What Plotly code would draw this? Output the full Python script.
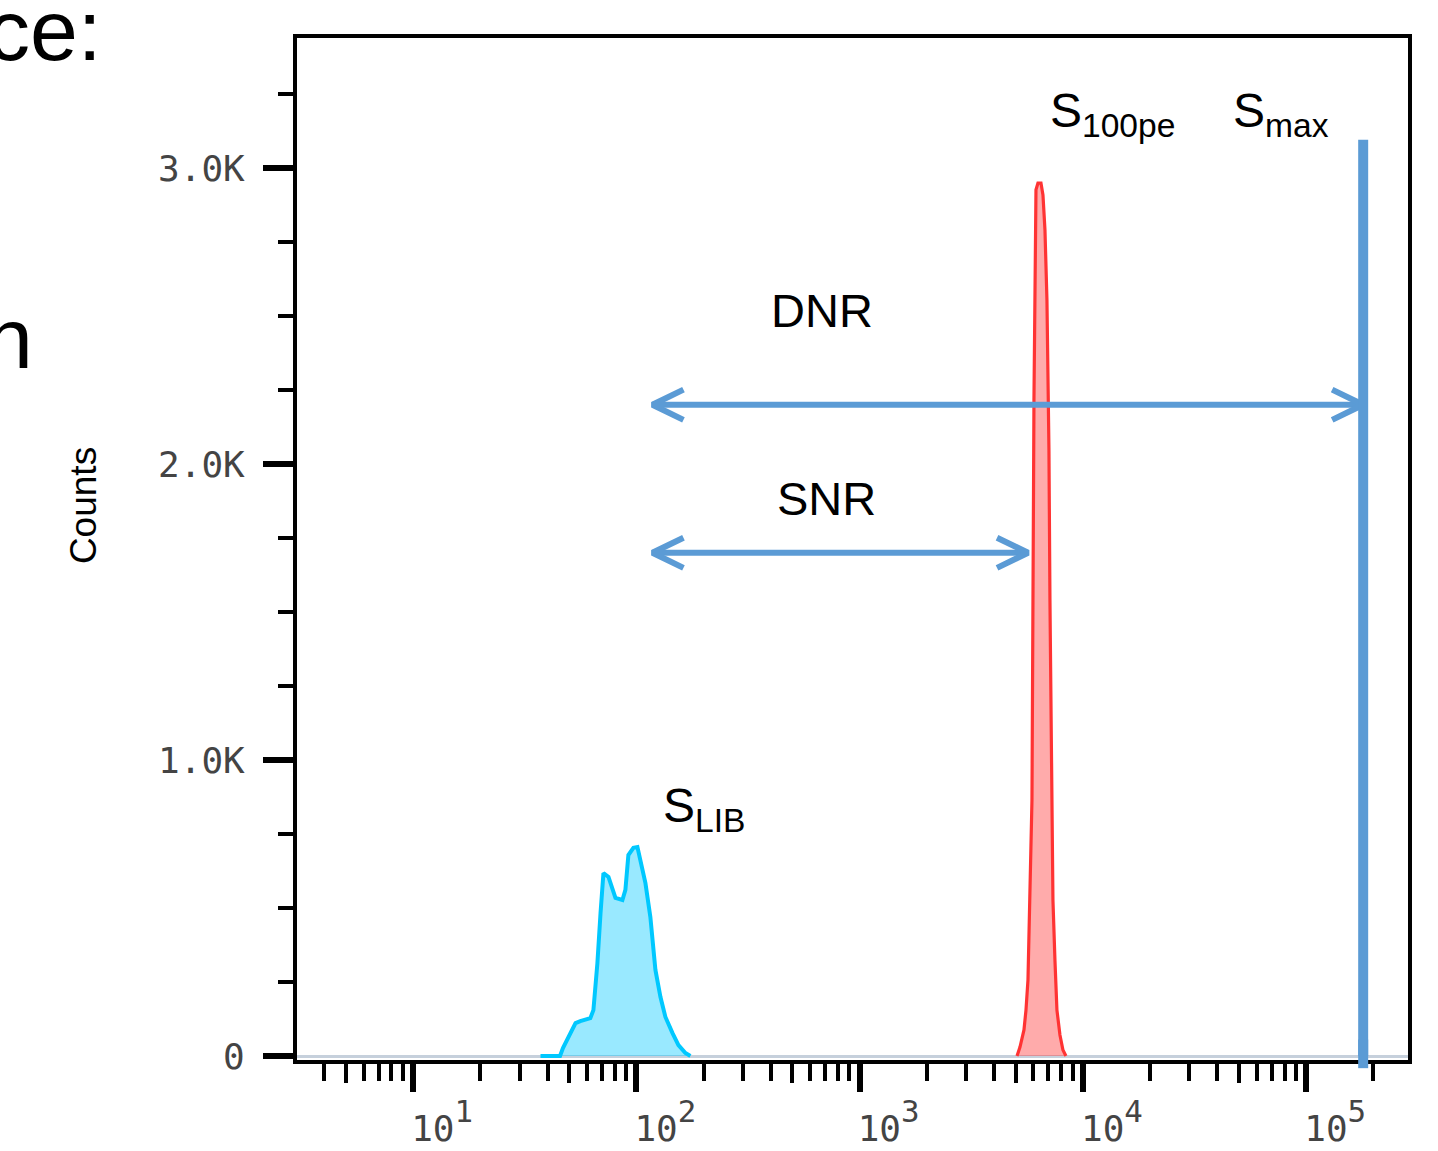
import plotly.graph_objects as go

# ---------------- data ----------------
# S_LIB histogram (blue) : bin position (a.u.) and counts
LIB_X = [37.2, 45.5, 46.9, 50.7, 53.4, 56.1, 62.2, 64.2, 66.9, 69.1, 71.2, 75.0, 78.2, 80.6,
         86.6, 89.3, 92.1, 97.0, 101.1, 104.3, 109.8, 115.5, 121.7, 128.2, 134.9, 145.0,
         154.3, 165.8, 174.6]
LIB_Y = [0, 0, 27, 78, 111, 118, 128, 155, 314, 483, 618, 605, 561, 534,
         527, 561, 679, 703, 706, 662, 584, 470, 291, 199, 132, 78,
         37, 10, 0]

# S_100pe histogram (red)
PE_X = [5068, 5226, 5445, 5559, 5675, 5793, 5913, 6036, 6098, 6162, 6290, 6488,
        6623, 6761, 6901, 7045, 7118, 7266, 7341, 7494, 7650, 7891, 8139, 8394]
PE_Y = [0, 30, 88, 155, 257, 527, 865, 2216, 2723, 2926, 2949, 2949,
        2909, 2791, 2554, 2047, 1541, 865, 527, 324, 155, 71, 20, 0]

# S_max marker line
S_MAX = 1.8e5
S_MAX_TOP = 3095

# dynamic range / signal-to-noise arrows
ARROW_LEFT = 118
SNR_RIGHT = 5680
DNR_RIGHT = S_MAX
DNR_Y = 2200
SNR_Y = 1700

# tick labels
Y_TICK_VALS = [0, 1000, 2000, 3000]
Y_TICK_TEXT = ["0", "1.0K", "2.0K", "3.0K"]
X_TICK_VALS = [10, 100, 1000, 10000, 100000]
X_TICK_EXP = ["1", "2", "3", "4", "5"]

# ---------------- style ----------------
ARROW_COLOR = "#5b9bd5"
HEAD_DX_DEC = 0.139   # arrow-head length in decades
HEAD_DY = 51          # arrow-head half-height in counts
TEXT_FONT = "Liberation Sans, Arial, Helvetica, sans-serif"
MONO = "DejaVu Sans Mono, monospace"
Y_RANGE = [-13.5, 3439]
X_RANGE_LOG = [0.48, 5.456]

x_tick_text = ["<span style='font-size:36px'>10</span><sup>%s</sup>" % e for e in X_TICK_EXP]
minor_x = [m * 10 ** k for k in range(0, 6) for m in range(2, 10)]
five_x = [5 * 10 ** k for k in range(0, 6)]


def arrow_xy(x0, x1, y):
    f = 10 ** HEAD_DX_DEC
    xs = [x0 * f, x0, x0 * f, None, x0, x1, None, x1 / f, x1, x1 / f]
    ys = [y + HEAD_DY, y, y - HEAD_DY, None, y, y, None, y + HEAD_DY, y, y - HEAD_DY]
    return xs, ys


fig = go.Figure()

fig.add_trace(go.Scatter(
    x=LIB_X, y=LIB_Y, mode="lines", fill="tozeroy",
    fillcolor="rgba(0,200,255,0.4)", line=dict(color="#00c8ff", width=4),
    hoverinfo="skip", showlegend=False))

fig.add_trace(go.Scatter(
    x=PE_X, y=PE_Y, mode="lines", fill="tozeroy",
    fillcolor="rgba(255,60,60,0.43)", line=dict(color="#ff3333", width=3.2),
    hoverinfo="skip", showlegend=False))

for (xl, xr, yy) in [(ARROW_LEFT, DNR_RIGHT, DNR_Y), (ARROW_LEFT, SNR_RIGHT, SNR_Y)]:
    xs, ys = arrow_xy(xl, xr, yy)
    fig.add_trace(go.Scatter(x=xs, y=ys, mode="lines",
                             line=dict(color=ARROW_COLOR, width=6),
                             hoverinfo="skip", showlegend=False))

fig.add_trace(go.Scatter(x=[S_MAX, S_MAX], y=[0, S_MAX_TOP], mode="lines",
                         line=dict(color=ARROW_COLOR, width=10),
                         hoverinfo="skip", showlegend=False))

# small extension of the S_max line below the axis
fig.add_shape(type="line", xref="x", yref="y domain", x0=S_MAX, x1=S_MAX,
              y0=-0.008, y1=0.02, line=dict(color=ARROW_COLOR, width=10), layer="above")

# dummy trace on overlay axis for the longer "5" ticks
fig.add_trace(go.Scatter(x=[five_x[1]], y=[None], xaxis="x2", mode="lines",
                         hoverinfo="skip", showlegend=False))

ann = []
ann.append(dict(text="DNR", x=2.832, y=2520, xref="x", yref="y", showarrow=False,
                xanchor="center", yanchor="middle", font=dict(family=TEXT_FONT, size=47, color="black")))
ann.append(dict(text="SNR", x=2.850, y=1885, xref="x", yref="y", showarrow=False,
                xanchor="center", yanchor="middle", font=dict(family=TEXT_FONT, size=47, color="black")))
ann.append(dict(text="S<sub>100pe</sub>", x=3.843, y=3182, xref="x", yref="y", showarrow=False,
                xanchor="left", yanchor="middle", font=dict(family=TEXT_FONT, size=48, color="black")))
ann.append(dict(text="S<sub>max</sub>", x=4.662, y=3182, xref="x", yref="y", showarrow=False,
                xanchor="left", yanchor="middle", font=dict(family=TEXT_FONT, size=48, color="black")))
ann.append(dict(text="S<sub>LIB</sub>", x=2.112, y=834, xref="x", yref="y", showarrow=False,
                xanchor="left", yanchor="middle", font=dict(family=TEXT_FONT, size=48, color="black")))
ann.append(dict(text="Counts", x=-0.1926, y=0.542, xref="paper", yref="paper", showarrow=False,
                textangle=-90, xanchor="center", yanchor="middle",
                font=dict(family=TEXT_FONT, size=37, color="black")))
# fragments of slide text cut by the left edge
ann.append(dict(text="ce:", x=-0.174, y=1.0083, xref="paper", yref="paper", showarrow=False,
                xanchor="right", yanchor="middle", font=dict(family=TEXT_FONT, size=86, color="black")))
ann.append(dict(text="n", x=-0.236, y=0.706, xref="paper", yref="paper", showarrow=False,
                xanchor="right", yanchor="middle", font=dict(family=TEXT_FONT, size=86, color="black")))

fig.update_layout(
    width=1438, height=1151, autosize=False,
    margin=dict(l=297, r=30, t=38, b=91, pad=0),
    paper_bgcolor="white", plot_bgcolor="white",
    showlegend=False,
    annotations=ann,
    xaxis=dict(
        type="log", range=X_RANGE_LOG, showgrid=False, zeroline=False, automargin=False,
        showline=True, linecolor="black", linewidth=4, mirror=True,
        tickmode="array", tickvals=X_TICK_VALS, ticktext=x_tick_text,
        ticks="outside", ticklen=28, tickwidth=6, tickcolor="black",
        tickfont=dict(family=MONO, size=44, color="#444444"),
        ticklabelshift=29, ticklabelstandoff=-4,
        minor=dict(tickmode="array", tickvals=minor_x, ticks="outside",
                   ticklen=17, tickwidth=3.5, tickcolor="black", showgrid=False),
    ),
    xaxis2=dict(
        type="log", range=X_RANGE_LOG, overlaying="x", anchor="y", side="bottom",
        showgrid=False, zeroline=False, showline=False, automargin=False,
        tickmode="array", tickvals=five_x, ticks="outside", ticklen=22, tickwidth=3.5,
        tickcolor="black", showticklabels=False,
    ),
    yaxis=dict(
        range=Y_RANGE, showgrid=False, automargin=False,
        zeroline=True, zerolinecolor="#c6d0dc", zerolinewidth=3,
        showline=True, linecolor="black", linewidth=4, mirror=True,
        tickmode="array", tickvals=Y_TICK_VALS, ticktext=Y_TICK_TEXT,
        ticks="outside", ticklen=30, tickwidth=6, tickcolor="black",
        tickfont=dict(family=MONO, size=36, color="#444444"), ticklabelstandoff=11,
        minor=dict(dtick=250, ticks="outside", ticklen=15, tickwidth=3.5,
                   tickcolor="black", showgrid=False),
    ),
)

fig.write_html("out.html", config={"displayModeBar": False},
               post_script="document.body.style.margin='0px';")
